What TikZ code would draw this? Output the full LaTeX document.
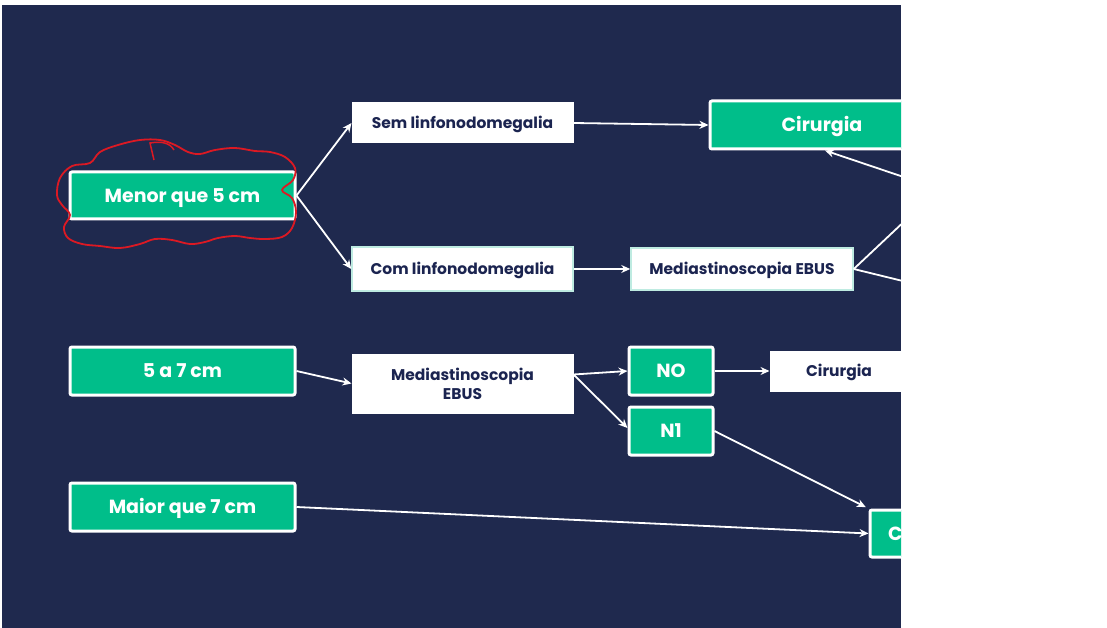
\documentclass[tikz,border=0pt]{standalone}
\usepackage{fontspec}
\setmainfont{Poppins}
\usetikzlibrary{arrows.meta}
\definecolor{navy}{RGB}{31,41,78}
\definecolor{grn}{RGB}{0,190,138}
\definecolor{txt}{RGB}{27,36,80}
\definecolor{mint}{RGB}{190,235,225}
\definecolor{cloudred}{RGB}{220,25,35}
\tikzset{
  gbox/.style={draw=white, line width=3pt, fill=grn, rounded corners=2pt, text=white, font=\bfseries\fontsize{19}{22}\selectfont, inner sep=0pt, text height=13.3pt, text depth=0pt},
  wbase/.style={draw=white, line width=1pt, fill=white, text=txt, font=\bfseries\fontsize{15.5}{19}\selectfont, inner sep=0pt, align=center},
  wbox/.style={wbase, text height=10.9pt, text depth=0pt},
  mbox/.style={wbox, draw=mint, line width=1.5pt},
  conn/.style={draw=white, line width=1.8pt, -{Stealth[length=9pt,width=8pt]}},
  plain/.style={draw=white, line width=1.8pt},
}
\begin{document}
\begin{tikzpicture}[x=1pt,y=-1pt]
\useasboundingbox (0,0) rectangle (1107,628);
\fill[white] (0,0) rectangle (1107,628);
\fill[navy] (2,5) rectangle (901,628);
\begin{scope}
\clip (2,5) rectangle (901,628);
% nodes
\node[gbox, minimum width=225pt, minimum height=47pt] (menor) at (182.5,195.5) {Menor que 5 cm};
\node[wbox, minimum width=221pt, minimum height=40pt] (sem) at (462.5,123) {Sem linfonodomegalia};
\node[mbox, minimum width=221pt, minimum height=44pt] (com) at (462.5,269) {Com linfonodomegalia};
\node[gbox, minimum width=224pt, minimum height=48pt] (cir1) at (822,125) {Cirurgia};
\node[mbox, minimum width=222pt, minimum height=42pt] (med1) at (742,269) {Mediastinoscopia EBUS};
\node[gbox, minimum width=225pt, minimum height=48pt] (c57) at (182.5,371) {5 a 7 cm};
\node[wbase, minimum width=221pt, minimum height=59pt] (med2) at (462.5,383.5) {Mediastinoscopia\\EBUS};
\node[gbox, minimum width=84pt, minimum height=48pt] (no) at (671,371) {NO};
\node[gbox, minimum width=84pt, minimum height=48pt] (n1) at (671,431) {N1};
\node[wbox, minimum width=138pt, minimum height=40pt] (cir2) at (839,371) {Cirurgia};
\node[gbox, minimum width=225pt, minimum height=48pt] (maior) at (182.5,507) {Maior que 7 cm};
\node[gbox, minimum height=47pt, text width=200pt, align=left, inner xsep=18pt] (bot) at (988,533.5) {C};
% off-picture ends
\coordinate (e1) at (960,196);
\coordinate (e2) at (960,169);
\coordinate (e3) at (960,295);
% connectors
\draw[conn] (menor.east) -- (sem.west);
\draw[conn] (menor.east) -- (com.west);
\draw[conn] (sem.east) -- (cir1.west);
\draw[conn] (com.east) -- (med1.west);
\draw[plain] (med1.east) -- (e2);
\draw[plain] (med1.east) -- (e3);
\draw[conn] (e1) -- ([xshift=3pt]cir1.south);
\draw[conn] (c57.east) -- (med2.west);
\draw[conn] ([yshift=9pt]med2.east) -- (no.west);
\draw[conn] ([yshift=9pt]med2.east) -- ([yshift=3pt]n1.west);
\draw[conn] (no.east) -- (cir2.west);
\draw[conn, shorten >=3pt] (n1.east) -- (bot.north west);
\draw[conn] (maior.east) -- (bot.west);
% red cloud annotation
\draw[cloudred, line width=1.8pt, line join=round] plot[smooth cycle, tension=0.6] coordinates {
(57,195) (60,178) (72,166) (90,163) (100,152) (118,145) (140,140) (160,140) (175,145) (188,152)
(200,154) (215,150) (235,148) (255,151) (270,152) (285,157) (295,168) (293,180) (282,190) (292,198)
(296,212) (292,228) (282,237) (265,239) (250,238) (235,236) (218,238) (205,242) (190,244) (172,240)
(155,239) (140,244) (120,248) (100,246) (82,244) (68,238) (64,227) (70,215) (62,205)};
\draw[cloudred, line width=1.5pt] (154,160) -- (150,143) .. controls (162,141) and (170,143) .. (174,150);
\end{scope}
\end{tikzpicture}
\end{document}
